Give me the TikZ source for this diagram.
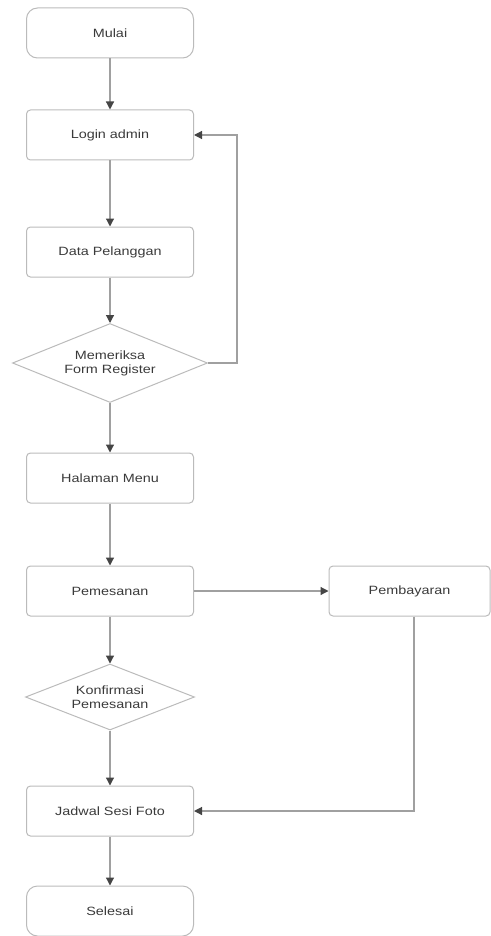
\documentclass[tikz,border=0pt]{standalone}
\usepackage{fontspec}
\setmainfont{Liberation Sans}[FakeStretch=1.2]
\usetikzlibrary{shapes.geometric,arrows.meta}
\definecolor{boxline}{HTML}{BBBBBB}
\definecolor{conn}{HTML}{A0A0A0}
\definecolor{tipc}{HTML}{454545}
\definecolor{txt}{HTML}{3A3A3A}
\begin{document}
\begin{tikzpicture}[x=1pt,y=-1pt,
  every node/.style={font=\fontsize{12}{14}\selectfont, text=txt},
  procbox/.style={draw=boxline, line width=1pt, rounded corners=4pt, minimum width=167pt, minimum height=50pt, inner sep=0pt},
  termbox/.style={procbox, rounded corners=11pt},
  decbox/.style={draw=boxline, line width=1pt, diamond, inner sep=0pt, align=center},
  flow/.style={draw=conn, line width=1.2pt, -{Triangle[length=8pt,width=8pt,color=tipc,fill=tipc]}}
]
\useasboundingbox (0,0) rectangle (490,936);
\node[termbox] (mulai) at (110,33) {Mulai};
\node[procbox] (login) at (110,135) {Login admin};
\node[procbox] (data) at (110,252) {Data Pelanggan};
\node[decbox, aspect=2.47, minimum width=195pt, minimum height=79pt] (periksa) at (110,363) {Memeriksa\\Form Register};
\node[procbox] (menu) at (110,478) {Halaman Menu};
\node[procbox] (pesan) at (110,591) {Pemesanan};
\node[procbox, minimum width=161pt] (bayar) at (409.5,591) {Pembayaran};
\node[decbox, aspect=2.56, minimum width=169pt, minimum height=66pt] (konf) at (110,697) {Konfirmasi\\Pemesanan};
\node[procbox] (jadwal) at (110,811) {Jadwal Sesi Foto};
\node[termbox] (selesai) at (110,911) {Selesai};
\coordinate (r1) at (237,363);
\coordinate (r2) at (237,135);
\coordinate (b1) at (414,811);
\draw[flow] (mulai) -- (login);
\draw[flow] (login) -- (data);
\draw[flow] (data) -- (periksa);
\draw[flow] (periksa.east) -- (r1) -- (r2) -- (login.east);
\draw[flow] (periksa) -- (menu);
\draw[flow] (menu) -- (pesan);
\draw[flow] (pesan) -- (bayar);
\draw[flow] (pesan) -- (konf);
\draw[flow] (konf) -- (jadwal);
\draw[flow] (bayar.south -| b1) -- (b1) -- (jadwal.east);
\draw[flow] (jadwal) -- (selesai);
\end{tikzpicture}
\end{document}
